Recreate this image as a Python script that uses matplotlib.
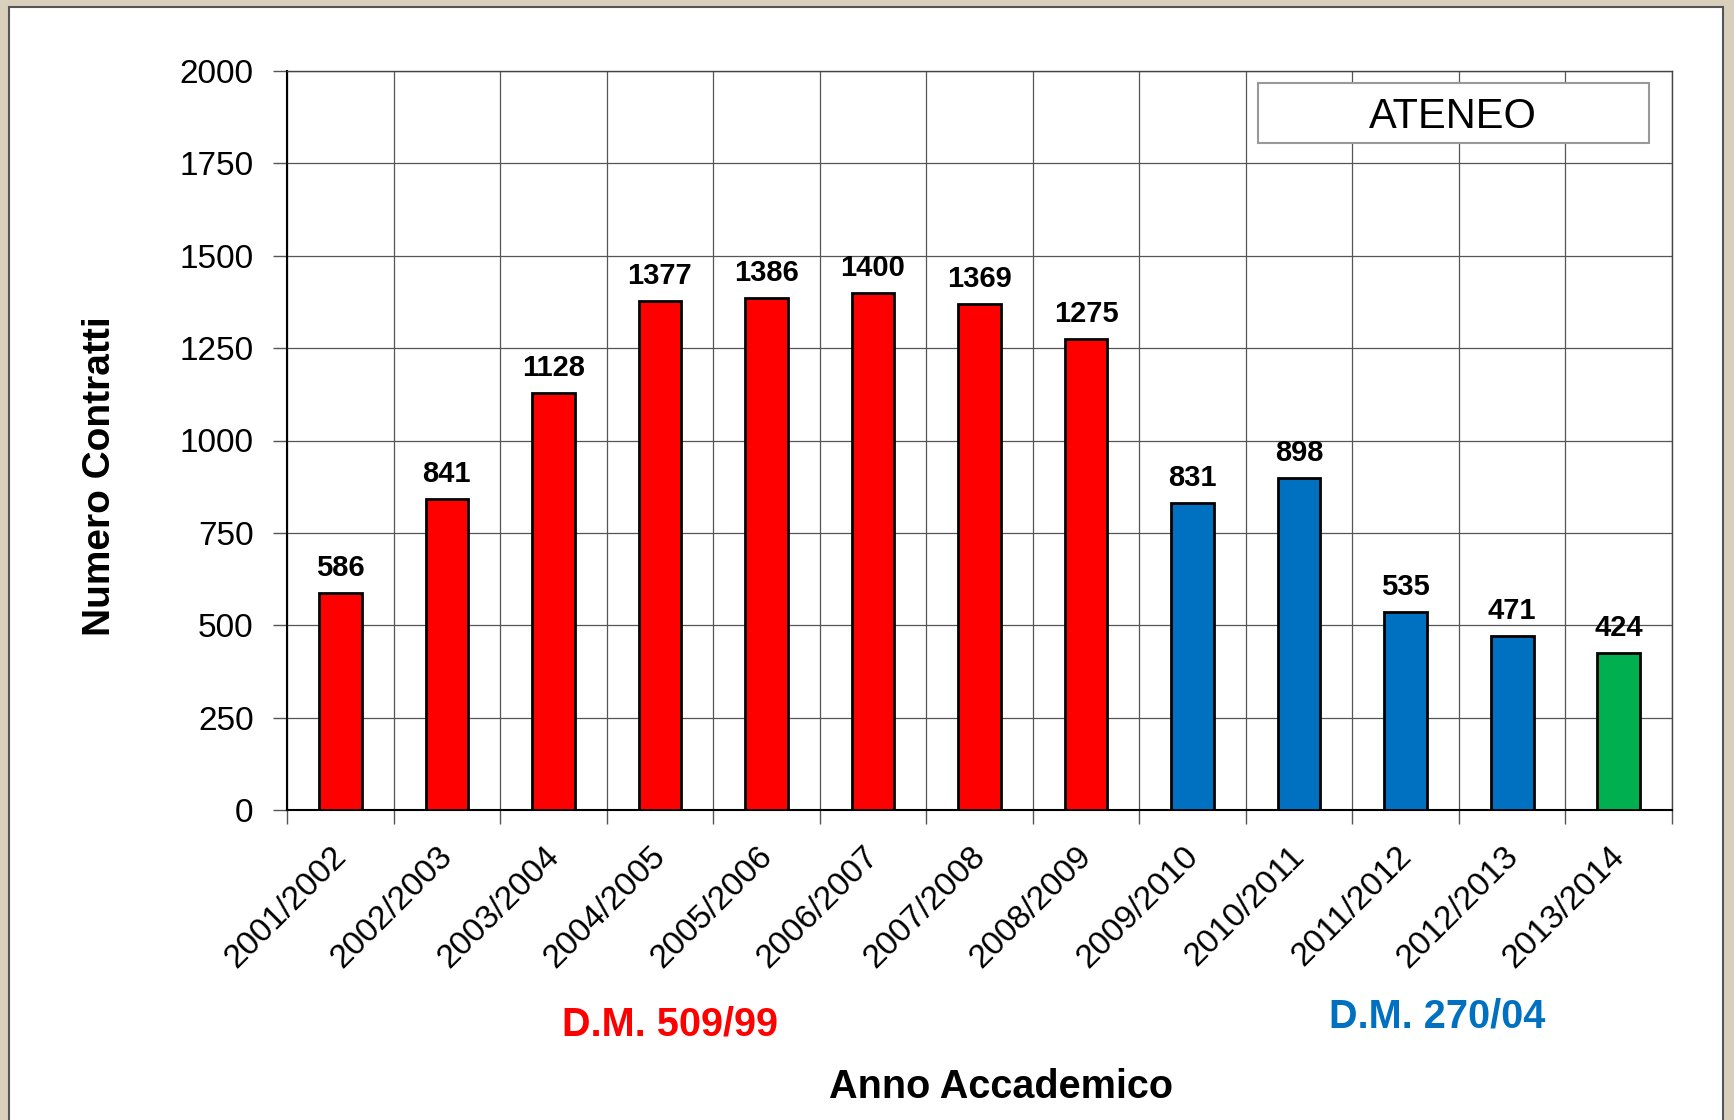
import matplotlib
matplotlib.use('Agg')
import matplotlib.pyplot as plt
import matplotlib.transforms as mtransforms
from matplotlib.patches import Rectangle

plt.rcParams['font.family'] = ['Liberation Sans', 'DejaVu Sans']

# data
anni = ['2001/2002', '2002/2003', '2003/2004', '2004/2005', '2005/2006',
        '2006/2007', '2007/2008', '2008/2009', '2009/2010', '2010/2011',
        '2011/2012', '2012/2013', '2013/2014']
contratti = [586, 841, 1128, 1377, 1386, 1400, 1369, 1275, 831, 898, 535, 471, 424]
ordinamento = ['509'] * 8 + ['270'] * 4 + ['new']
colori = {'509': '#FF0000', '270': '#0070C0', 'new': '#00B050'}
y_ticks = [0, 250, 500, 750, 1000, 1250, 1500, 1750, 2000]

W, H = 1734, 1120
fig = plt.figure(figsize=(W / 100, H / 100), dpi=100)
fig.patch.set_facecolor('#d8cfbc')

# white panel inside the beige frame
panel = Rectangle((9 / W, -0.01), (1723 - 9) / W, (H - 7) / H + 0.01, transform=fig.transFigure,
                  facecolor='white', edgecolor='#555555', linewidth=1.5, zorder=-5)
fig.patches.append(panel)

ax = fig.add_axes([287 / W, 310 / H, (1672 - 287) / W, (810 - 71) / H])
ax.set_zorder(2)
ax.set_facecolor('white')

x = list(range(len(anni)))
bars = ax.bar(x, contratti, width=0.4, color=[colori[o] for o in ordinamento],
              edgecolor='black', linewidth=2, zorder=3)

for xi, v in zip(x, contratti):
    ax.annotate(str(v), (xi, v), xytext=(0, 8), textcoords='offset points',
                ha='center', va='bottom', fontsize=21, fontweight='bold', zorder=4)

ax.set_xlim(-0.5, len(anni) - 0.5)
ax.set_ylim(0, 2000)
ax.set_yticks(y_ticks)
ax.set_yticklabels([str(t) for t in y_ticks], fontsize=24)

# category ticks sit on the boundaries, labels at the centres
ax.set_xticks([i - 0.5 for i in range(len(anni) + 1)])
ax.set_xticklabels([])
ax.set_xticks(x, minor=True)
ax.set_xticklabels(anni, minor=True, rotation=45, ha='right', rotation_mode='anchor',
                   fontsize=24)
ax.tick_params(axis='x', which='minor', length=0, pad=22)
shift = mtransforms.ScaledTranslation(-10 / 100, 0, fig.dpi_scale_trans)
for lab in ax.get_xticklabels(minor=True):
    lab.set_transform(lab.get_transform() + shift)
ax.tick_params(axis='x', which='major', length=10, width=1, color='#555555', direction='out')
ax.tick_params(axis='y', length=10, width=1, color='#555555', direction='out', pad=14)

ax.grid(True, which='major', color='#555555', linewidth=0.9, zorder=1)
ax.set_axisbelow(True)
for s in ['top', 'right']:
    ax.spines[s].set_color('#444444')
    ax.spines[s].set_linewidth(1)
for s in ['left', 'bottom']:
    ax.spines[s].set_color('black')
    ax.spines[s].set_linewidth(1.5)

# ATENEO box
box = Rectangle(((1258 - 287) / (1672 - 287), (810 - 143) / (810 - 71)),
                (1649 - 1258) / (1672 - 287), 60 / (810 - 71), transform=ax.transAxes,
                facecolor='white', edgecolor='#999999', linewidth=1.5, zorder=5)
ax.add_patch(box)
ax.text((1453 - 287) / (1672 - 287), (810 - 117) / (810 - 71), 'ATENEO', transform=ax.transAxes,
        ha='center', va='center', fontsize=30, zorder=6)

fig.text(100 / W, 1 - 476 / H, 'Numero Contratti', rotation=90, ha='center', va='center',
         fontsize=28, fontweight='bold')
fig.text(1001 / W, 1 - 1087 / H, 'Anno Accademico', ha='center', va='center',
         fontsize=28.5, fontweight='bold')
fig.text(670 / W, 1 - 1024 / H, 'D.M. 509/99', ha='center', va='center',
         fontsize=28.5, fontweight='bold', color='#FF0000')
fig.text(1437 / W, 1 - 1017 / H, 'D.M. 270/04', ha='center', va='center',
         fontsize=28.5, fontweight='bold', color='#0070C0')

fig.savefig('out.png', dpi=100, facecolor=fig.get_facecolor())
